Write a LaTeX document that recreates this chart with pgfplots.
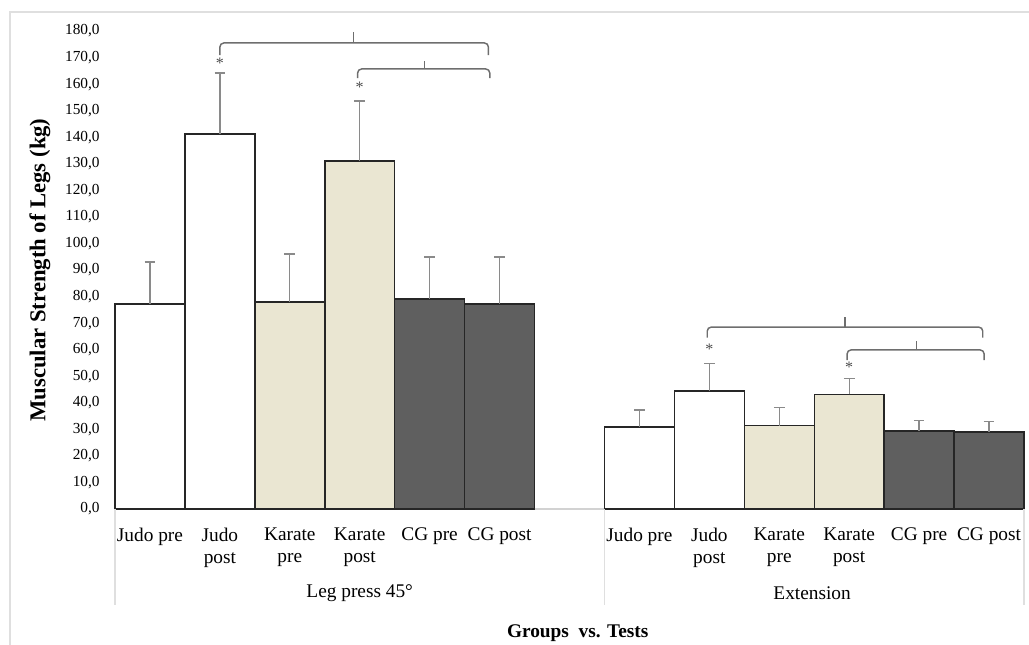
\documentclass[border=0pt]{standalone}
\usepackage{fontspec}
\setmainfont{Liberation Serif}
\usepackage{pgfplots}
\pgfplotsset{compat=1.18}
\definecolor{beige}{HTML}{EAE6D2}
\definecolor{darkbar}{HTML}{5F5F5F}
\definecolor{errgray}{HTML}{8A8A8A}
\definecolor{brgray}{HTML}{6E6E6E}

\begin{document}
\begin{tikzpicture}
\path[use as bounding box] (-86.25pt,-101.25pt) rectangle (685.5pt,381.75pt);
\draw[gray!25, line width=0.8pt] (-78.75pt,372.75pt) rectangle (720pt,-130pt);
\begin{axis}[
  at={(0,0)}, anchor=south west,
  scale only axis, width=681.75pt, height=358.5pt,
  xmin=-0.5, xmax=12.5, ymin=0, ymax=180,
  clip=false,
  separate axis lines,
  axis x line*=bottom, axis y line*=left,
  x axis line style={gray!35, line width=0.8pt},
  y axis line style={draw=none},
  major tick length=0pt,
  ytick={0,10,...,180},
  yticklabel style={font=\fontsize{11.5}{13}\selectfont, xshift=-8pt,
    /pgf/number format/.cd, fixed, fixed zerofill, precision=1, use comma, 1000 sep={}, assume math mode=true},
  xtick={0,1,2,3,4,5,7,8,9,10,11,12},
  xticklabels={Judo pre,{Judo\\post},{Karate\\pre},{Karate\\post},CG pre,CG post,
               Judo pre,{Judo\\post},{Karate\\pre},{Karate\\post},CG pre,CG post},
  xticklabel style={font=\fontsize{14.5}{16.5}\selectfont, align=center, anchor=north, yshift=-10.5pt},
  ylabel={\textbf{Muscular Strength of Legs (kg)}},
  ylabel style={font=\fontsize{17}{19}\selectfont, at={(axis description cs:-0.0825,0.5)}, anchor=center, rotate=0},
  xlabel={\textbf{Groups\ \ vs. Tests}},
  xlabel style={font=\fontsize{14.5}{16}\selectfont, at={(axis description cs:0.509,-0.26)}, anchor=center},
  ybar, bar width=1,
  every axis plot/.append style={bar shift=0pt, line width=1.1pt, draw=black!85},
  error bars/y dir=plus, error bars/y explicit,
  error bars/error bar style={errgray, line width=1pt},
  error bars/error mark options={rotate=90, mark size=4pt, errgray, line width=1pt},
]
\addplot[fill=white] coordinates {
  (0,77.2) +- (0,15.8)  (1,141.2) +- (0,23.0)
  (7,30.9) +- (0,6.4)   (8,44.4) +- (0,10.5)};
\addplot[fill=beige] coordinates {
  (2,77.9) +- (0,18.1)  (3,131.0) +- (0,22.6)
  (9,31.4) +- (0,6.7)   (10,43.2) +- (0,5.9)};
\addplot[fill=darkbar] coordinates {
  (4,79.1) +- (0,15.8)  (5,77.2) +- (0,17.7)
  (11,29.4) +- (0,4.0)  (12,29.0) +- (0,3.9)};

% group separators and group names
\draw[gray!25, line width=0.8pt] (axis cs:-0.5,0) -- ([yshift=-72pt]axis cs:-0.5,0);
\draw[gray!25, line width=0.8pt] (axis cs:6.5,0) -- ([yshift=-72pt]axis cs:6.5,0);
\draw[gray!25, line width=0.8pt] (axis cs:12.5,0) -- ([yshift=-72pt]axis cs:12.5,0);
\node[font=\fontsize{14.5}{16.5}\selectfont] at ([yshift=-63pt]axis cs:3,0) {Leg press 45°};
\node[font=\fontsize{14.5}{16.5}\selectfont] at ([yshift=-63pt]axis cs:9.47,0) {Extension};

% significance marks
\node[font=\fontsize{12}{12}\selectfont, text=black!70] at (axis cs:1,168.0) {*};
\node[font=\fontsize{12}{12}\selectfont, text=black!70] at (axis cs:3,159.0) {*};
\node[font=\fontsize{12}{12}\selectfont, text=black!70] at (axis cs:8,60.3) {*};
\node[font=\fontsize{12}{12}\selectfont, text=black!70] at (axis cs:10,53.3) {*};

\tikzset{br/.style={brgray, line width=1.1pt, rounded corners=3pt}}
\draw[br] (axis cs:1,170.9) -- (axis cs:1,175.5) -- (axis cs:4.84,175.5) -- (axis cs:4.84,170.9);
\draw[br] (axis cs:2.91,175.5) -- (axis cs:2.91,179.6);
\draw[br] (axis cs:2.97,162.3) -- (axis cs:2.97,165.7) -- (axis cs:4.86,165.7) -- (axis cs:4.86,162.3);
\draw[br] (axis cs:3.93,165.7) -- (axis cs:3.93,168.7);
\draw[br] (axis cs:7.97,64.5) -- (axis cs:7.97,68.5) -- (axis cs:11.91,68.5) -- (axis cs:11.91,64.5);
\draw[br] (axis cs:9.94,68.5) -- (axis cs:9.94,72.4);
\draw[br] (axis cs:9.97,56.1) -- (axis cs:9.97,59.9) -- (axis cs:11.93,59.9) -- (axis cs:11.93,56.1);
\draw[br] (axis cs:10.96,59.9) -- (axis cs:10.96,63.4);
\end{axis}
\end{tikzpicture}
\end{document}
